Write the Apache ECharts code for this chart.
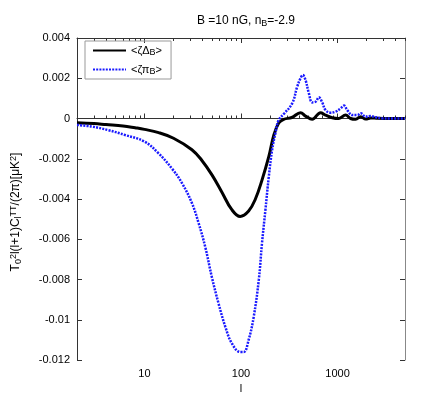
<!DOCTYPE html>
<html>
<head>
<meta charset="utf-8">
<script src="https://cdn.jsdelivr.net/npm/echarts@6/dist/echarts.min.js"></script>
<style>
  html, body { margin: 0; padding: 0; background: #fff; }
  #chart { width: 429px; height: 401px; }
</style>
</head>
<body>
<div id="chart"></div>
<script>
// multipole l and values for <zeta Delta_B>
var ellDelta = [2, 3, 4, 6, 8, 10, 14, 20, 31, 39, 50, 63, 80, 98, 120, 141, 165, 194, 219, 246, 277, 336, 414, 466, 546, 667, 751, 881, 1033, 1212, 1366, 1540, 1738, 1959, 2208, 2600, 3500, 5000];
var deltaVals = [-0.00021, -0.00025, -0.0003, -0.00037, -0.00046, -0.00054, -0.0007, -0.00098, -0.00155, -0.00206, -0.0028, -0.00364, -0.00452, -0.00487, -0.0046, -0.004, -0.00306, -0.0019, -0.00082, -0.00022, -0.00004, 0.00005, 0.00029, 0.00012, -0.00004, 0.00029, 0.00017, 0.00004, 0.0, 0.00017, 0.0, -0.00004, 0.00009, -0.00003, 0.00003, 0.00001, 0, 0];

// multipole l and values for <zeta pi_B>
var ellPi = [2, 2.84, 4.23, 6.3, 10, 14, 19.2, 24.4, 31, 36.4, 42.7, 50, 58.6, 68.8, 80.6, 98.5, 107, 120, 135.5, 153, 165, 179, 194, 210, 227, 246, 277, 339, 382, 414, 437, 466, 505, 546, 592, 641, 694, 751, 847, 955, 1076, 1165, 1261, 1422, 1603, 1738, 1959, 2208, 2489, 2900, 3500, 5000];
var piVals = [-0.00032, -0.0004, -0.00058, -0.00082, -0.00115, -0.00173, -0.00248, -0.0032, -0.0042, -0.0052, -0.0064, -0.0079, -0.0092, -0.01035, -0.01118, -0.0116, -0.0116, -0.011, -0.00985, -0.008, -0.0062, -0.00455, -0.0029, -0.00157, -0.00074, -0.00007, 0.00022, 0.00075, 0.00158, 0.002, 0.00216, 0.00191, 0.00125, 0.0008, 0.00083, 0.00105, 0.0008, 0.00042, 0.00029, 0.00034, 0.0005, 0.00064, 0.00042, 0.00017, 0.00017, 0.00026, 0.00009, 0.00012, 0.00006, 0.00001, 0, 0];

// tick labels
var xMajor = [10, 100, 1000];
var xMinor = [2, 3, 4, 5, 6, 7, 8, 9, 20, 30, 40, 50, 60, 70, 80, 90, 200, 300, 400, 500, 600, 700, 800, 900, 2000, 3000, 4000, 5000];
var seriesNames = ['<ζΔ{s|B}>', '<ζπ{s|B}>'];

function pairs(xs, ys) {
  return xs.map(function (x, i) { return [x, ys[i]]; });
}

var font = 'Liberation Sans';
var axisColor = '#333';

// sub / superscript styles for rich text
function sub(size) {
  return { fontFamily: font, fontSize: size, lineHeight: 3, verticalAlign: 'bottom', color: '#000' };
}
function sup(size) {
  return { fontFamily: font, fontSize: size, lineHeight: 3, verticalAlign: 'top', color: '#000' };
}

function xAxisDef(pos, ticks, len, labels, line) {
  return {
    type: 'log',
    position: pos,
    min: 2,
    max: 5000,
    axisLine: { show: line, lineStyle: { color: axisColor, width: 1 } },
    axisTick: { show: true, inside: true, length: len, customValues: ticks, lineStyle: { color: axisColor } },
    axisLabel: {
      show: labels,
      customValues: xMajor,
      formatter: function (v) { return String(v); },
      fontFamily: font, fontSize: 11, color: '#000', margin: 8
    },
    splitLine: { show: false },
    minorTick: { show: false },
    name: labels ? 'l' : '',
    nameLocation: 'middle',
    nameGap: 23,
    nameTextStyle: { fontFamily: font, fontSize: 11, color: '#000' }
  };
}

var myChart = echarts.init(document.getElementById('chart'));

var option = {
  backgroundColor: '#fff',
  animation: false,
  title: {
    text: 'B =10 nG, n{s|B}=-2.9',
    left: 241,
    textAlign: 'center',
    top: 9,
    textStyle: {
      fontFamily: font, fontSize: 12, lineHeight: 14, fontWeight: 'normal', color: '#000',
      rich: { s: sub(9) }
    }
  },
  grid: { left: 77, right: 24, top: 38, bottom: 41 },
  legend: {
    left: 85,
    top: 41,
    orient: 'vertical',
    padding: [3, 9, 3, 7],
    itemGap: 6,
    itemWidth: 33,
    itemHeight: 14,
    borderColor: '#999',
    borderWidth: 1,
    itemStyle: { opacity: 0 },
    formatter: function (name) { return name; },
    textStyle: {
      fontFamily: font, fontSize: 11, lineHeight: 13, color: '#000',
      rich: { s: sub(9) }
    }
  },
  xAxis: [
    xAxisDef('bottom', xMajor, 5, true, true),
    xAxisDef('bottom', xMinor, 3, false, false),
    xAxisDef('top', xMajor, 5, false, true),
    xAxisDef('top', xMinor, 3, false, false)
  ],
  yAxis: [
    {
      type: 'value',
      position: 'left',
      min: -0.012,
      max: 0.004,
      interval: 0.002,
      axisLine: { show: true, lineStyle: { color: axisColor } },
      axisTick: { show: true, inside: true, length: 5, lineStyle: { color: axisColor } },
      axisLabel: { fontFamily: font, fontSize: 11, color: '#000', margin: 7 },
      splitLine: { show: false },
      name: 'T{sb|0}{sp|2}l(l+1)C{sb|l}{sp|TT}/(2π)[μK{sp|2}]',
      nameLocation: 'middle',
      nameRotate: 90,
      nameGap: 54,
      nameTextStyle: {
        fontFamily: font, fontSize: 12, lineHeight: 14, color: '#000',
        padding: [0, 26, 0, 0],
        rich: { sb: sub(9), sp: sup(9) }
      }
    },
    {
      type: 'value',
      position: 'right',
      min: -0.012,
      max: 0.004,
      interval: 0.002,
      axisLine: { show: true, lineStyle: { color: '#888' } },
      axisTick: { show: true, inside: true, length: 5, lineStyle: { color: axisColor } },
      axisLabel: { show: false },
      splitLine: { show: false }
    }
  ],
  series: [
    {
      name: seriesNames[0],
      type: 'line',
      xAxisIndex: 0,
      yAxisIndex: 0,
      data: pairs(ellDelta, deltaVals),
      symbol: 'none',
      showSymbol: false,
      smooth: 0.4,
      color: '#000',
      lineStyle: { color: '#000', width: 3 },
      z: 3
    },
    {
      name: seriesNames[1],
      type: 'line',
      xAxisIndex: 0,
      yAxisIndex: 0,
      data: pairs(ellPi, piVals),
      symbol: 'none',
      showSymbol: false,
      smooth: 0.4,
      color: '#1a1aff',
      lineStyle: { color: '#1a1aff', width: 2.5, type: [2, 1.2] },
      z: 4
    }
  ]
};

myChart.setOption(option);
</script>
</body>
</html>
